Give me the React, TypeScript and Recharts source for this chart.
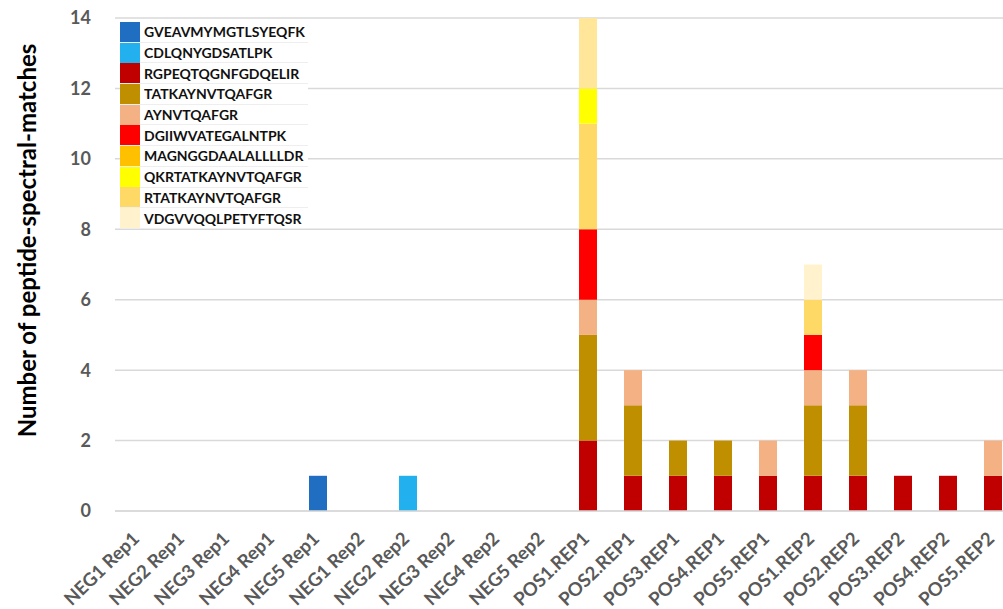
import { BarChart, Bar, XAxis, YAxis, CartesianGrid } from 'recharts';

const categories = [
  'NEG1 Rep1', 'NEG2 Rep1', 'NEG3 Rep1', 'NEG4 Rep1', 'NEG5 Rep1',
  'NEG1 Rep2', 'NEG2 Rep2', 'NEG3 Rep2', 'NEG4 Rep2', 'NEG5 Rep2',
  'POS1.REP1', 'POS2.REP1', 'POS3.REP1', 'POS4.REP1', 'POS5.REP1',
  'POS1.REP2', 'POS2.REP2', 'POS3.REP2', 'POS4.REP2', 'POS5.REP2',
];

// counts per category, in category order
const gveav = [0, 0, 0, 0, 1, 0, 0, 0, 0, 0, 0, 0, 0, 0, 0, 0, 0, 0, 0, 0];
const cdlq = [0, 0, 0, 0, 0, 0, 1, 0, 0, 0, 0, 0, 0, 0, 0, 0, 0, 0, 0, 0];
const rgpe = [0, 0, 0, 0, 0, 0, 0, 0, 0, 0, 2, 1, 1, 1, 1, 1, 1, 1, 1, 1];
const tatk = [0, 0, 0, 0, 0, 0, 0, 0, 0, 0, 3, 2, 1, 1, 0, 2, 2, 0, 0, 0];
const aynv = [0, 0, 0, 0, 0, 0, 0, 0, 0, 0, 1, 1, 0, 0, 1, 1, 1, 0, 0, 1];
const dgii = [0, 0, 0, 0, 0, 0, 0, 0, 0, 0, 2, 0, 0, 0, 0, 1, 0, 0, 0, 0];
const magn = [0, 0, 0, 0, 0, 0, 0, 0, 0, 0, 0, 0, 0, 0, 0, 0, 0, 0, 0, 0];
const rtatk = [0, 0, 0, 0, 0, 0, 0, 0, 0, 0, 3, 0, 0, 0, 0, 1, 0, 0, 0, 0];
const qkrt = [0, 0, 0, 0, 0, 0, 0, 0, 0, 0, 1, 0, 0, 0, 0, 0, 0, 0, 0, 0];
const unlisted = [0, 0, 0, 0, 0, 0, 0, 0, 0, 0, 2, 0, 0, 0, 0, 0, 0, 0, 0, 0];
const vdgv = [0, 0, 0, 0, 0, 0, 0, 0, 0, 0, 0, 0, 0, 0, 0, 1, 0, 0, 0, 0];

const yTicks = [0, 2, 4, 6, 8, 10, 12, 14];

// stacking order (bottom to top)
const series = [
  { key: 'GVEAVMYMGTLSYEQFK', values: gveav, color: '#1F6EC1' },
  { key: 'CDLQNYGDSATLPK', values: cdlq, color: '#22B0EE' },
  { key: 'RGPEQTQGNFGDQELIR', values: rgpe, color: '#C00000' },
  { key: 'TATKAYNVTQAFGR', values: tatk, color: '#BF8F00' },
  { key: 'AYNVTQAFGR', values: aynv, color: '#F4B183' },
  { key: 'DGIIWVATEGALNTPK', values: dgii, color: '#FF0000' },
  { key: 'MAGNGGDAALALLLLDR', values: magn, color: '#FFC000' },
  { key: 'RTATKAYNVTQAFGR', values: rtatk, color: '#FFD966' },
  { key: 'QKRTATKAYNVTQAFGR', values: qkrt, color: '#FFFF00' },
  { key: 'unlisted', values: unlisted, color: '#FFE699' },
  { key: 'VDGVVQQLPETYFTQSR', values: vdgv, color: '#FFF2CC' },
];

const legendOrder = [
  'GVEAVMYMGTLSYEQFK', 'CDLQNYGDSATLPK', 'RGPEQTQGNFGDQELIR', 'TATKAYNVTQAFGR',
  'AYNVTQAFGR', 'DGIIWVATEGALNTPK', 'MAGNGGDAALALLLLDR', 'QKRTATKAYNVTQAFGR',
  'RTATKAYNVTQAFGR', 'VDGVVQQLPETYFTQSR',
];

const data = categories.map((name, i) => {
  const row: Record<string, string | number> = { name };
  series.forEach((s) => {
    row[s.key] = s.values[i];
  });
  return row;
});

const FONT = 'Lato, "Open Sans", sans-serif';

function XTick({ x, y, payload }: any) {
  return (
    <g transform={`translate(${x + 3},${y + 21})`}>
      <text
        textAnchor="end"
        transform="rotate(-44)"
        fontFamily={FONT}
        fontWeight={700}
        fontSize={18.5}
        fill="#595959"
      >
        {payload.value}
      </text>
    </g>
  );
}

function PeptideLegend() {
  return (
    <div
      style={{
        position: 'absolute',
        left: 120,
        top: 22,
        width: 188,
        background: '#fff',
        fontFamily: FONT,
        fontWeight: 700,
        fontSize: 14,
        color: '#111',
      }}
    >
      {legendOrder.map((k) => {
        const s = series.find((d) => d.key === k)!;
        return (
          <div
            key={k}
            style={{
              display: 'flex',
              alignItems: 'center',
              height: 20.7,
              borderBottom: '1px solid #eeeeee',
              boxSizing: 'border-box',
            }}
          >
            <span
              style={{
                display: 'inline-block',
                width: 20,
                height: 20,
                background: s.color,
                marginRight: 4,
              }}
            />
            <span>{k}</span>
          </div>
        );
      })}
    </div>
  );
}

export default function App() {
  return (
    <div
      style={{
        position: 'fixed',
        left: 0,
        top: 0,
        width: 1003,
        height: 609,
        overflow: 'hidden',
        background: '#fff',
      }}
    >
      <BarChart
        width={1020}
        height={609}
        data={data}
        margin={{ top: 18, right: 5, left: 0, bottom: 0 }}
        barSize={18}
      >
        <CartesianGrid vertical={false} stroke="#D9D9D9" strokeWidth={1.5} />
        <XAxis
          dataKey="name"
          interval={0}
          height={98}
          tick={<XTick />}
          axisLine={{ stroke: '#D9D9D9', strokeWidth: 1.5 }}
          tickLine={false}
        />
        <YAxis
          width={115}
          domain={[0, 14]}
          ticks={yTicks}
          axisLine={false}
          tickLine={false}
          tickMargin={18}
          tick={{ fontFamily: FONT, fontWeight: 700, fontSize: 18, fill: '#595959' }}
          label={{
            content: ({ viewBox }: any) => (
              <text
                x={0}
                y={0}
                transform={`translate(36,${viewBox.y + viewBox.height / 2 - 24}) rotate(-90)`}
                textAnchor="middle"
                fontFamily={FONT}
                fontWeight={700}
                fontSize={24}
                fill="#000"
              >
                Number of peptide-spectral-matches
              </text>
            ),
          }}
        />
        {series.map((s) => (
          <Bar
            key={s.key}
            dataKey={s.key}
            stackId="psm"
            fill={s.color}
            isAnimationActive={false}
          />
        ))}
      </BarChart>
      <PeptideLegend />
    </div>
  );
}
